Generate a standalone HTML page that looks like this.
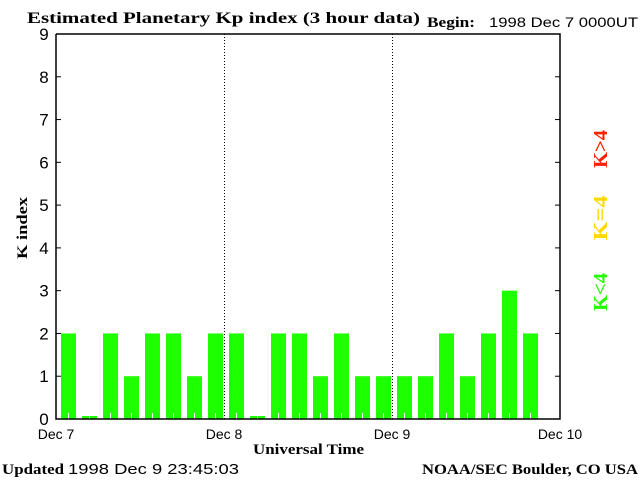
<!DOCTYPE html>
<html><head><meta charset="utf-8"><style>
body{margin:0;background:#fff;width:640px;height:480px;overflow:hidden}
svg text{font-family:"Liberation Sans",sans-serif}
svg text.s,svg .s text{font-family:"Liberation Serif",serif;font-weight:bold}
</style></head><body>
<svg id="c" width="640" height="480" xmlns="http://www.w3.org/2000/svg">
<text class="s" x="27" y="23" font-size="16" textLength="393" lengthAdjust="spacingAndGlyphs">Estimated Planetary Kp index (3 hour data)</text>
<text class="s" x="427" y="27" font-size="15" textLength="48" lengthAdjust="spacingAndGlyphs">Begin:</text>
<text x="489" y="27" font-size="14" textLength="149" lengthAdjust="spacingAndGlyphs">1998 Dec 7 0000UT</text>
<text class="s" x="27" y="228" font-size="15" transform="rotate(-90 27 228)" text-anchor="middle" textLength="62" lengthAdjust="spacingAndGlyphs">K index</text>
<text class="s" x="253" y="454" font-size="15" textLength="111" lengthAdjust="spacingAndGlyphs">Universal Time</text>
<text class="s" x="2" y="474" font-size="15" textLength="62" lengthAdjust="spacingAndGlyphs">Updated</text>
<text x="68" y="474" font-size="15" textLength="171" lengthAdjust="spacingAndGlyphs">1998 Dec  9 23:45:03</text>
<text class="s" x="422" y="474" font-size="15" textLength="216" lengthAdjust="spacingAndGlyphs">NOAA/SEC Boulder, CO USA</text>
<g class="s" font-size="20">
<text x="607" y="149" fill="#ff2000" text-anchor="middle" transform="rotate(-90 607 149)" textLength="38" lengthAdjust="spacingAndGlyphs">K&gt;4</text>
<text x="607" y="218" fill="#ffd800" text-anchor="middle" transform="rotate(-90 607 218)" textLength="45" lengthAdjust="spacingAndGlyphs">K=4</text>
<text x="607" y="292" fill="#22ff00" text-anchor="middle" transform="rotate(-90 607 292)" textLength="38" lengthAdjust="spacingAndGlyphs">K&lt;4</text>
</g>
<g id="plot"></g>
</svg>
<script>
const values=[2,0,2,1,2,2,1,2, 2,0,2,2,1,2,1,1, 1,1,2,1,2,3,2];
const yTicks=[0,1,2,3,4,5,6,7,8,9];
const dayLabels=["Dec 7","Dec 8","Dec 9","Dec 10"];
const X0=56,X1=560,Y0=419,Y1=34,NB=24;
const x=i=>X0+(X1-X0)*i/NB;
const y=v=>Y0-(Y0-Y1)*v/9;
const g=document.getElementById('plot');
const NS="http://www.w3.org/2000/svg";
function mk(t,a){const e=document.createElementNS(NS,t);for(const k in a)e.setAttribute(k,a[k]);g.appendChild(e);return e;}
values.forEach((v,i)=>{
  const top=v>0?y(v):Y0-3;
  const b=mk('rect',{x:x(i)+5,y:top,width:15,height:Y0-top,fill:'#1eff00'});
  
  
  const t=mk('line',{x1:x(i)+12.5,x2:x(i)+12.5,y1:Y0-6,y2:Y0,stroke:'#fff','stroke-width':1});
  
  
});
[1,2].forEach(d=>{
  const l=mk('line',{x1:x(d*8)+0.5,x2:x(d*8)+0.5,y1:Y1,y2:Y0,stroke:'#000','stroke-dasharray':'1,2'});
  
  
});
const ax=mk('path',{d:`M${X0} ${Y1}V${Y0}H${X1}V${Y1}H${X0}`,fill:'none',stroke:'#000','stroke-width':1.5});


yTicks.forEach(v=>{
  const yy=y(v);
  mk('line',{x1:X0,x2:X0+5,y1:yy,y2:yy,stroke:'#000'});
  mk('line',{x1:X1-5,x2:X1,y1:yy,y2:yy,stroke:'#000'});
  const t=mk('text',{x:44,y:yy+6,'font-size':17,'text-anchor':'middle'});
  t.textContent=v;
  
  
});
dayLabels.forEach((s,d)=>{
  const t=mk('text',{x:x(d*8),y:439,'font-size':14,'text-anchor':'middle'});
  t.textContent=s;
  
  
});
</script>
</body></html>
